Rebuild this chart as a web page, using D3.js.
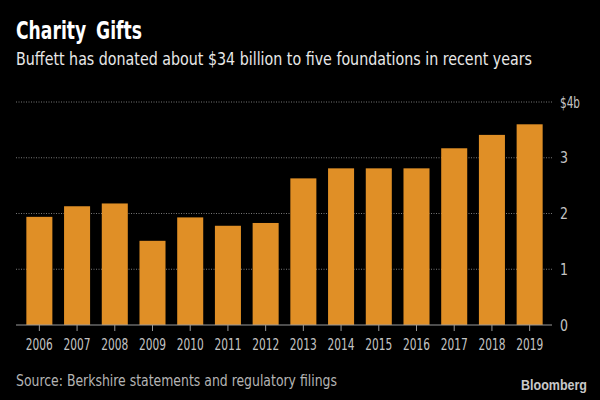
<!DOCTYPE html>
<html>
<head>
<meta charset="utf-8">
<script src="https://cdn.jsdelivr.net/npm/d3@7"></script>
<style>
  html, body { margin: 0; padding: 0; background: #000; }
  svg { display: block; }
  text { font-family: "DejaVu Sans Condensed", "DejaVu Sans", sans-serif; }
</style>
</head>
<body>
<svg id="chart" width="600" height="400"></svg>
<script>
const years = ["2006", "2007", "2008", "2009", "2010", "2011", "2012", "2013", "2014", "2015", "2016", "2017", "2018", "2019"];
const gifts = [1.94, 2.13, 2.18, 1.51, 1.93, 1.78, 1.83, 2.63, 2.81, 2.81, 2.81, 3.17, 3.41, 3.6];
const yTicks = [0, 1, 2, 3, 4];

const barColor = "#e08f26";
const svg = d3.select("#chart");

const x = d3.scaleBand().domain(years).range([20.5, 548.5]).paddingInner(0.31).paddingOuter(0.155);
const y = d3.scaleLinear().domain([0, 4]).range([325, 102]);

// title block
svg.append("text").attr("x", 16).attr("y", 39).attr("fill", "#fff")
  .attr("font-size", 24).attr("font-weight", 700)
  .attr("textLength", 126).attr("lengthAdjust", "spacingAndGlyphs")
  .attr("word-spacing", 5)
  .text("Charity Gifts");
svg.append("text").attr("x", 16).attr("y", 65).attr("fill", "#e8e8e8")
  .attr("font-size", 17).attr("textLength", 516).attr("lengthAdjust", "spacingAndGlyphs")
  .text("Buffett has donated about $34 billion to five foundations in recent years");

// gridlines and y labels
svg.append("g").selectAll("line").data(yTicks.filter((d) => d > 0)).join("line")
  .attr("x1", 16).attr("x2", 552)
  .attr("y1", (d) => y(d)).attr("y2", (d) => y(d))
  .attr("stroke", "#777").attr("stroke-width", 1).attr("stroke-dasharray", "1,1.5");

svg.append("g").selectAll("text").data(yTicks).join("text")
  .attr("x", 560).attr("y", (d) => y(d) + 5.5)
  .attr("fill", "#c4c4c4").attr("font-size", 15)
  .attr("textLength", (d) => (d === 4 ? 20 : 8)).attr("lengthAdjust", "spacingAndGlyphs")
  .text((d) => (d === 4 ? "$4b" : d));

// bars
svg.append("g").selectAll("rect").data(years).join("rect")
  .attr("x", (d) => x(d)).attr("width", x.bandwidth())
  .attr("y", (d, i) => y(gifts[i])).attr("height", (d, i) => y(0) - y(gifts[i]))
  .attr("fill", barColor);

// baseline and x axis
svg.append("line").attr("x1", 16).attr("x2", 552).attr("y1", y(0)).attr("y2", y(0))
  .attr("stroke", "#999").attr("stroke-width", 1.2);

svg.append("g").selectAll("line").data(years).join("line")
  .attr("x1", (d) => x(d) + x.bandwidth() / 2).attr("x2", (d) => x(d) + x.bandwidth() / 2)
  .attr("y1", y(0)).attr("y2", y(0) + 6)
  .attr("stroke", "#999").attr("stroke-width", 1);

svg.append("g").selectAll("text").data(years).join("text")
  .attr("x", (d) => x(d) + x.bandwidth() / 2).attr("y", 350)
  .attr("text-anchor", "middle").attr("fill", "#c4c4c4").attr("font-size", 15)
  .attr("textLength", 27).attr("lengthAdjust", "spacingAndGlyphs")
  .text((d) => d);

// footer
svg.append("text").attr("x", 16).attr("y", 386).attr("fill", "#b4b4b4")
  .attr("font-size", 15.5).attr("textLength", 321).attr("lengthAdjust", "spacingAndGlyphs")
  .text("Source: Berkshire statements and regulatory filings");
svg.append("text").attr("x", 521).attr("y", 390).attr("fill", "#c8c8c8")
  .style("font-family", "'Liberation Sans', sans-serif")
  .attr("font-size", 15).attr("font-weight", 700)
  .attr("textLength", 66).attr("lengthAdjust", "spacingAndGlyphs")
  .text("Bloomberg");
</script>
</body>
</html>
